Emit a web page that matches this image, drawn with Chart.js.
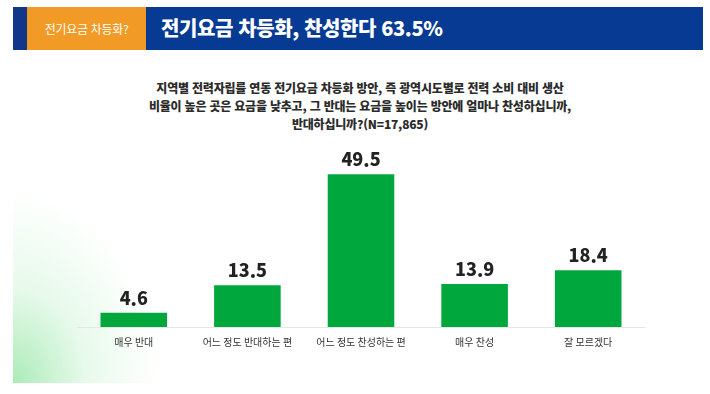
<!DOCTYPE html>
<html lang="ko">
<head>
<meta charset="utf-8">
<script src="https://cdn.jsdelivr.net/npm/chart.js@4.4.1/dist/chart.umd.min.js"></script>
<style>
    html, body { margin: 0; padding: 0; background: #fff; }
    body { width: 710px; height: 394px; position: relative; overflow: hidden; font-family: "Noto Sans CJK KR", "Noto Sans", sans-serif; }
    .glow { position: absolute; left: 13px; top: 190px; width: 145px; height: 193px;
        background: radial-gradient(ellipse 145px 190px at 0% 100%, rgba(150, 230, 165, 0.8) 0%, rgba(195, 242, 205, 0.4) 50%, rgba(255, 255, 255, 0) 100%); }
    .header { position: absolute; left: 13px; top: 7px; width: 690px; height: 43px; background: #063a93; }
    .header .strip { position: absolute; left: 0; top: 0; width: 14px; height: 43px; background: #12378a; }
    .header .tag { position: absolute; left: 14px; top: 0; width: 119px; height: 43px; background: #f29a26;
        color: #fff; font-size: 12px; line-height: 43px; text-align: center; letter-spacing: -0.3px; }
    .header .title { position: absolute; left: 148px; top: 0; height: 43px; line-height: 42px;
        color: #fff; font-size: 20px; font-weight: 900; letter-spacing: -0.4px; }
    .question { position: absolute; left: 0; top: 79px; width: 720px; text-align: center;
        color: #2b2b2b; font-size: 12px; font-weight: 900; line-height: 18px; letter-spacing: -0.2px; }
    .chart-box { position: absolute; left: 0; top: 140px; width: 710px; height: 225px; }
</style>
</head>
<body>
<div class="glow"></div>
<div class="header">
    <div class="strip"></div>
    <div class="tag">전기요금 차등화?</div>
    <div class="title">전기요금 차등화, 찬성한다 63.5%</div>
</div>
<div class="question">
    지역별 전력자립률 연동 전기요금 차등화 방안, 즉 광역시도별로 전력 소비 대비 생산<br>
    비율이 높은 곳은 요금을 낮추고, 그 반대는 요금을 높이는 방안에 얼마나 찬성하십니까,<br>
    반대하십니까?(N=17,865)
</div>
<div class="chart-box"><canvas id="myChart" width="710" height="225"></canvas></div>

<script>
var categories = ['매우 반대', '어느 정도 반대하는 편', '어느 정도 찬성하는 편', '매우 찬성', '잘 모르겠다'];
var percentValues = [4.6, 13.5, 49.5, 13.9, 18.4];

document.addEventListener('DOMContentLoaded', function() {
    "use strict";

    /*Value labels above bars*/
    var valueLabels = {
        id: 'valueLabels',
        afterDatasetsDraw: function(chart) {
            var ctx = chart.ctx;
            var meta = chart.getDatasetMeta(0);
            ctx.save();
            ctx.fillStyle = '#222';
            ctx.font = '900 18px "Noto Sans CJK KR", sans-serif';
            ctx.textAlign = 'center';
            ctx.textBaseline = 'bottom';
            meta.data.forEach(function(bar, i) {
                ctx.fillText(percentValues[i].toFixed(1), bar.x, bar.y - 6);
            });
            ctx.restore();
        }
    };

    var ctx = document.getElementById('myChart').getContext('2d');
    new Chart(ctx, {
        type: 'bar',
        data: {
            labels: categories,
            datasets: [{
                data: percentValues,
                backgroundColor: '#00a73c',
                borderWidth: 0,
                categoryPercentage: 0.586,
                barPercentage: 1
            }]
        },
        options: {
            responsive: false,
            animation: false,
            layout: { padding: { left: 77, right: 65, top: 24, bottom: 16 } },
            plugins: {
                legend: { display: false },
                tooltip: { enabled: false }
            },
            scales: {
                x: {
                    grid: { display: false },
                    border: { display: true, color: '#e6e6e6', width: 1 },
                    ticks: {
                        color: '#333',
                        padding: 1,
                        font: { family: '"Noto Sans CJK KR", sans-serif', size: 10 }
                    }
                },
                y: {
                    display: false,
                    min: 0,
                    max: 52.8
                }
            }
        },
        plugins: [valueLabels]
    });
});
</script>
</body>
</html>
